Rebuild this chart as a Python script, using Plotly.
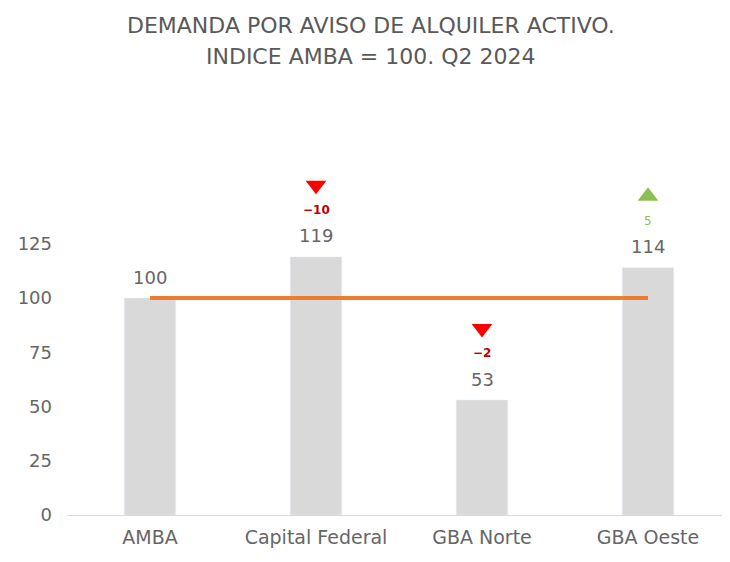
import plotly.graph_objects as go

# data
regiones = ["AMBA", "Capital Federal", "GBA Norte", "GBA Oeste"]
indice = [100, 119, 53, 114]
variacion = [None, -10, -2, 5]
base_amba = [100, 100, 100, 100]
titulo = ["DEMANDA POR AVISO DE ALQUILER ACTIVO.", "INDICE AMBA = 100. Q2 2024"]

gris = "#666666"
font_fam = "'DejaVu Sans', sans-serif"

fig = go.Figure()

fig.add_trace(go.Bar(
    x=regiones, y=indice,
    marker=dict(color="#D9D9D9"),
    width=0.31,
    showlegend=False,
    hoverinfo="skip",
))

fig.add_trace(go.Scatter(
    x=regiones, y=base_amba,
    mode="lines",
    line=dict(color="#ED7D31", width=4),
    showlegend=False,
    hoverinfo="skip",
))

# etiquetas de valor
for reg, val in zip(regiones, indice):
    fig.add_annotation(
        x=reg, y=val, text=str(val), showarrow=False,
        yshift=21, font=dict(size=18, color=gris, family=font_fam),
    )

# flechas y variaciones
for reg, val, var in zip(regiones, indice, variacion):
    if var is None:
        continue
    col = "#FF0000" if var < 0 else "#8CC152"
    sym = "triangle-down" if var < 0 else "triangle-up"
    fig.add_trace(go.Scatter(
        x=[reg], y=[val + 33],
        mode="markers",
        marker=dict(symbol=sym, size=18, color=col),
        showlegend=False,
        hoverinfo="skip",
        cliponaxis=False,
    ))
    txt = "<b>\u2212" + str(abs(var)) + "</b>" if var < 0 else str(var)
    fig.add_annotation(
        x=reg, y=val, text=txt, showarrow=False,
        yshift=47, font=dict(size=12, color="#C00000" if var < 0 else "#8CC152", family=font_fam),
    )

# titulo
for linea, yy in zip(titulo, [1.412, 1.320]):
    fig.add_annotation(
        xref="paper", yref="paper", x=0.458, y=yy,
        text=linea, showarrow=False, xanchor="center", yanchor="middle",
        font=dict(size=22, color="#595959", family=font_fam),
    )

fig.update_layout(
    width=730, height=562,
    margin=dict(l=59, r=7, t=160, b=55),
    plot_bgcolor="white", paper_bgcolor="white",
    font=dict(family=font_fam, color=gris),
)
fig.update_xaxes(
    showline=True, linecolor="#D9D9D9", linewidth=1,
    tickfont=dict(size=19, color=gris, family=font_fam),
    ticks="", range=[-0.5, 3.5],
    ticklabelstandoff=5,
)
fig.update_yaxes(
    range=[0, 160], tickvals=[0, 25, 50, 75, 100, 125],
    showgrid=False, zeroline=False,
    tickfont=dict(size=18, color=gris, family=font_fam),
    ticklabelstandoff=14,
)

fig.write_html("out.html")
